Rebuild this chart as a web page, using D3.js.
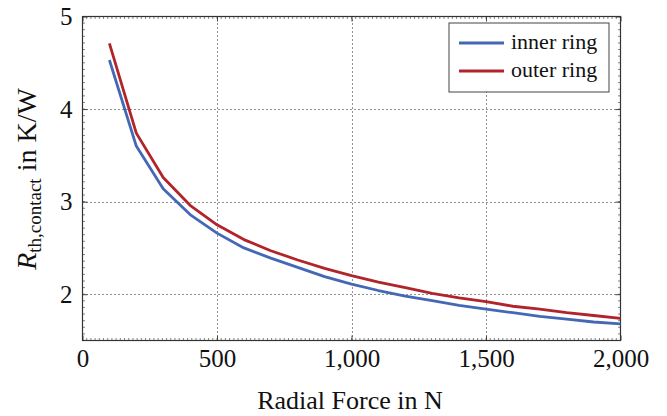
<!DOCTYPE html>
<html>
    <head>
        <meta charset="utf-8">
        <title>Contact resistance vs radial force</title>
        <script src="https://cdn.jsdelivr.net/npm/d3@7"></script>
        <style type="text/css">
            html, body {
                margin: 0;
                background: #fff;
            }
            svg text {
                font-family: "Liberation Serif", "DejaVu Serif", serif;
            }
        </style>
    </head>
    <body>
        <svg id="chart" width="667" height="416"></svg>
        <script>
            // ---------- data
            var force = [100, 200, 300, 400, 500, 600, 700, 800, 900, 1000,
                         1100, 1200, 1300, 1400, 1500, 1600, 1700, 1800, 1900, 2000];
            var innerRing = [4.53, 3.60, 3.14, 2.86, 2.66, 2.50, 2.39, 2.29, 2.19, 2.11,
                             2.04, 1.98, 1.93, 1.88, 1.84, 1.80, 1.76, 1.73, 1.70, 1.68];
            var outerRing = [4.71, 3.74, 3.26, 2.96, 2.75, 2.59, 2.47, 2.37, 2.28, 2.20,
                             2.13, 2.07, 2.01, 1.96, 1.92, 1.87, 1.84, 1.80, 1.77, 1.74];
            var xTicks = [0, 500, 1000, 1500, 2000];
            var yTicks = [2, 3, 4, 5];
            var seriesNames = ["inner ring", "outer ring"];

            // ----------
            var svg = d3.select("#chart");
            var pLeft = 82.5, pRight = 620.5, pTop = 16.5, pBottom = 340.5;

            var x = d3.scaleLinear().domain([0, 2000]).range([pLeft, pRight]);
            var y = d3.scaleLinear().domain([1.5, 5]).range([pBottom, pTop]);

            var series = [
                {name: seriesNames[0], values: innerRing, color: "#4468b6"},
                {name: seriesNames[1], values: outerRing, color: "#b0242a"}
            ];

            // grid
            var grid = svg.append("g")
                .attr("stroke", "#222")
                .attr("stroke-width", 1)
                .attr("stroke-dasharray", "1,3");
            grid.selectAll(".gx").data(xTicks.slice(1, -1)).enter().append("line")
                .attr("x1", function(d) { return Math.round(x(d)) + 0.5; })
                .attr("x2", function(d) { return Math.round(x(d)) + 0.5; })
                .attr("y1", pBottom).attr("y2", pTop);
            grid.selectAll(".gy").data(yTicks.slice(0, -1)).enter().append("line")
                .attr("y1", function(d) { return Math.round(y(d)) + 0.5; })
                .attr("y2", function(d) { return Math.round(y(d)) + 0.5; })
                .attr("x1", pLeft).attr("x2", pRight);

            // minor ticks, inward on all sides
            var minor = svg.append("g").attr("stroke", "#666").attr("stroke-width", 0.8);
            var xMinor = d3.range(0, 2000.01, 500 / 32);
            var yMinor = d3.range(1.5, 5.001, 1 / 14);
            minor.selectAll(".mb").data(xMinor).enter().append("line")
                .attr("x1", function(d) { return x(d); }).attr("x2", function(d) { return x(d); })
                .attr("y1", pBottom).attr("y2", pBottom - 2.5);
            minor.selectAll(".mt").data(xMinor).enter().append("line")
                .attr("x1", function(d) { return x(d); }).attr("x2", function(d) { return x(d); })
                .attr("y1", pTop).attr("y2", pTop + 2.5);
            minor.selectAll(".ml").data(yMinor).enter().append("line")
                .attr("y1", function(d) { return y(d); }).attr("y2", function(d) { return y(d); })
                .attr("x1", pLeft).attr("x2", pLeft + 2.5);
            minor.selectAll(".mr").data(yMinor).enter().append("line")
                .attr("y1", function(d) { return y(d); }).attr("y2", function(d) { return y(d); })
                .attr("x1", pRight).attr("x2", pRight - 2.5);

            // axes with major ticks pointing inward
            svg.append("g")
                .attr("transform", "translate(0," + pBottom + ")")
                .call(d3.axisBottom(x).tickValues(xTicks).tickSizeInner(-5).tickSizeOuter(0).tickPadding(9).tickFormat(d3.format(",")));
            svg.append("g")
                .attr("transform", "translate(" + pLeft + ",0)")
                .call(d3.axisLeft(y).tickValues(yTicks).tickSizeInner(-5).tickSizeOuter(0).tickPadding(10).tickFormat(d3.format("d")));
            svg.append("g")
                .attr("transform", "translate(0," + pTop + ")")
                .call(d3.axisTop(x).tickValues(xTicks).tickSizeInner(-5).tickSizeOuter(0).tickFormat(""));
            svg.append("g")
                .attr("transform", "translate(" + pRight + ",0)")
                .call(d3.axisRight(y).tickValues(yTicks).tickSizeInner(-5).tickSizeOuter(0).tickFormat(""));

            svg.selectAll(".domain").remove();
            svg.selectAll(".tick line").attr("stroke", "#444");
            svg.selectAll(".tick text")
                .attr("font-size", 25)
                .attr("fill", "#111")
                .style("font-family", "'Liberation Serif', serif");

            // frame
            svg.append("rect")
                .attr("x", pLeft).attr("y", pTop)
                .attr("width", pRight - pLeft).attr("height", pBottom - pTop)
                .attr("fill", "none").attr("stroke", "#333").attr("stroke-width", 1.2);

            // lines
            var line = d3.line()
                .x(function(d, i) { return x(force[i]); })
                .y(function(d) { return y(d); });
            svg.selectAll(".series").data(series).enter().append("path")
                .attr("fill", "none")
                .attr("stroke", function(d) { return d.color; })
                .attr("stroke-width", 2.8)
                .attr("stroke-linejoin", "round")
                .attr("d", function(d) { return line(d.values); });

            // legend
            var lg = svg.append("g").attr("transform", "translate(449,23)");
            lg.append("rect")
                .attr("width", 160).attr("height", 69)
                .attr("fill", "#fff").attr("stroke", "#444").attr("stroke-width", 1);
            var entry = lg.selectAll(".entry").data(series).enter().append("g")
                .attr("transform", function(d, i) { return "translate(0," + (20 + i * 28) + ")"; });
            entry.append("line")
                .attr("x1", 10).attr("x2", 55)
                .attr("stroke", function(d) { return d.color; })
                .attr("stroke-width", 2.8);
            entry.append("text")
                .attr("x", 62).attr("y", 6)
                .attr("font-size", 22)
                .attr("fill", "#111")
                .text(function(d) { return d.name; });

            // axis labels
            svg.append("text")
                .attr("x", 350).attr("y", 409)
                .attr("text-anchor", "middle")
                .attr("font-size", 26)
                .attr("fill", "#111")
                .text("Radial Force in N");

            var yl = svg.append("text")
                .attr("transform", "translate(36,179) rotate(-90)")
                .attr("text-anchor", "middle")
                .attr("font-size", 28)
                .attr("fill", "#111");
            yl.append("tspan").attr("font-style", "italic").text("R");
            yl.append("tspan").attr("font-size", 19).attr("dy", 5).text("th,contact");
            yl.append("tspan").attr("dy", -5).text(" in K/W");
        </script>
    </body>
</html>
